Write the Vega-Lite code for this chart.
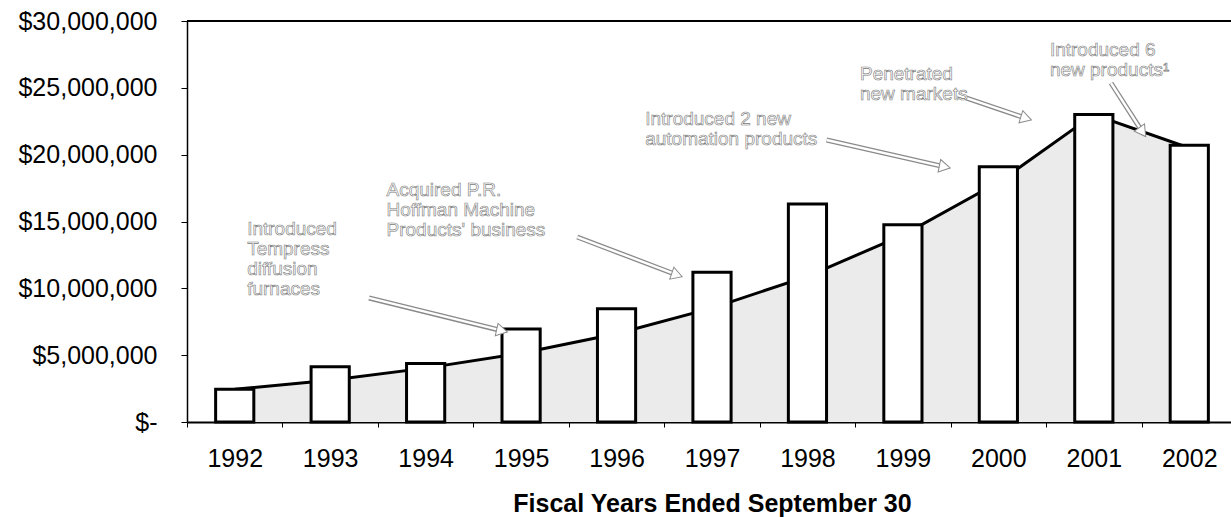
{
  "$schema": "https://vega.github.io/schema/vega-lite/v6.json",
  "autosize": {"type": "none"},
  "width": 1044,
  "height": 401,
  "padding": {"left": 187, "top": 21, "right": 0, "bottom": 95},
  "background": "white",
  "config": {
    "view": {"stroke": null},
    "font": "Liberation Sans",
    "axisX": {
      "labelAngle": 0, "labelFontSize": 25, "labelColor": "black", "labelFont": "Liberation Sans",
      "tickBand": "extent", "tickSize": 5, "tickColor": "black", "tickWidth": 1,
      "domainColor": "black", "domainWidth": 2, "labelPadding": 19,
      "titleFontSize": 25, "titleFontWeight": "bold", "titleColor": "black", "titleFont": "Liberation Sans", "titlePadding": 20
    },
    "axisY": {
      "labelFontSize": 25, "labelColor": "black", "labelFont": "Liberation Sans",
      "tickSize": 6, "tickColor": "black", "domainColor": "black", "domainWidth": 1.5,
      "labelPadding": 24, "grid": false, "title": null
    }
  },
  "datasets": {
    "sales": [
      {"year": "1992", "revenue": 2450000, "trend": 2450000},
      {"year": "1993", "revenue": 4130000, "trend": 3120000},
      {"year": "1994", "revenue": 4380000, "trend": 4030000},
      {"year": "1995", "revenue": 6950000, "trend": 5150000},
      {"year": "1996", "revenue": 8480000, "trend": 6600000},
      {"year": "1997", "revenue": 11200000, "trend": 8520000},
      {"year": "1998", "revenue": 16300000, "trend": 10900000},
      {"year": "1999", "revenue": 14750000, "trend": 13980000},
      {"year": "2000", "revenue": 19100000, "trend": 17930000},
      {"year": "2001", "revenue": 23000000, "trend": 23000000},
      {"year": "2002", "revenue": 20700000, "trend": 20500000}
    ],
    "notes": [
      {"ax": 1992.13, "ay": 14440000, "label": "Introduced\nTempress\ndiffusion\nfurnaces"},
      {"ax": 1993.59, "ay": 17360000, "label": "Acquired P.R.\nHoffman Machine\nProducts' business"},
      {"ax": 1996.3, "ay": 22670000, "label": "Introduced 2 new\nautomation products"},
      {"ax": 1998.55, "ay": 26070000, "label": "Penetrated\nnew markets"},
      {"ax": 2000.54, "ay": 27830000, "label": "Introduced 6\nnew products¹"}
    ],
    "arrows": [
      {"x1": 1993.08, "y1": 9280000, "x2": 1994.6, "y2": 6830000, "head": 12.7},
      {"x1": 1995.46, "y1": 13840000, "x2": 1996.6, "y2": 11000000, "head": 19.2},
      {"x1": 1998.31, "y1": 21100000, "x2": 1999.66, "y2": 19090000, "head": 11.7},
      {"x1": 1999.81, "y1": 24460000, "x2": 2000.59, "y2": 22720000, "head": 17.4},
      {"x1": 2001.56, "y1": 25360000, "x2": 2001.92, "y2": 21690000, "head": 54.9}
    ]
  },
  "layer": [
    {
      "data": {"name": "sales"},
      "layer": [
        {
          "mark": {"type": "area", "color": "#ebebeb"},
          "encoding": {
            "x": {"field": "year", "type": "ordinal", "bandPosition": 0.5,
                  "scale": {"range": [0, 1050], "paddingInner": 0, "paddingOuter": 0},
                  "axis": {"title": "Fiscal Years Ended September 30"}},
            "y": {"field": "trend", "type": "quantitative",
                  "scale": {"domain": [0, 30000000], "nice": false},
                  "axis": {"values": [0, 5000000, 10000000, 15000000, 20000000, 25000000, 30000000],
                           "labelExpr": "datum.value == 0 ? '$-' : format(datum.value, '$,.0f')"}}
          }
        },
        {
          "mark": {"type": "line", "color": "black", "strokeWidth": 3},
          "encoding": {
            "x": {"field": "year", "type": "ordinal", "bandPosition": 0.5},
            "y": {"field": "trend", "type": "quantitative"}
          }
        },
        {
          "mark": {"type": "bar", "fill": "white", "stroke": "black", "strokeWidth": 3, "width": {"band": 0.4}},
          "encoding": {
            "x": {"field": "year", "type": "ordinal"},
            "y": {"field": "revenue", "type": "quantitative"}
          }
        },
        {
          "mark": {"type": "rule", "color": "black", "strokeWidth": 1.5},
          "encoding": {"y": {"datum": 30000000}}
        }
      ]
    },
    {
      "data": {"name": "arrows"},
      "layer": [
        {
          "mark": {"type": "rule", "stroke": "#8a8a8a", "strokeWidth": 5},
          "encoding": {
            "x": {"field": "x1", "type": "quantitative", "scale": {"domain": [1991.5, 2002.5], "range": [0, 1050]}, "axis": null},
            "x2": {"field": "x2"},
            "y": {"field": "y1", "type": "quantitative"},
            "y2": {"field": "y2"}
          }
        },
        {
          "mark": {"type": "rule", "stroke": "white", "strokeWidth": 2.4},
          "encoding": {
            "x": {"field": "x1", "type": "quantitative"},
            "x2": {"field": "x2"},
            "y": {"field": "y1", "type": "quantitative"},
            "y2": {"field": "y2"}
          }
        },
        {
          "mark": {"type": "point", "shape": "triangle-right", "filled": true, "fill": "white", "stroke": "#8a8a8a", "strokeWidth": 1, "size": 160, "opacity": 1},
          "encoding": {
            "x": {"field": "x2", "type": "quantitative"},
            "y": {"field": "y2", "type": "quantitative"},
            "angle": {"field": "head", "type": "quantitative", "scale": null}
          }
        }
      ]
    },
    {
      "data": {"name": "notes"},
      "mark": {"type": "text", "align": "left", "baseline": "middle", "lineBreak": "\n", "fontSize": 19, "lineHeight": 20,
               "font": "Liberation Sans", "fill": "white", "stroke": "#7a7a7a", "strokeWidth": 0.6},
      "encoding": {
        "x": {"field": "ax", "type": "quantitative", "scale": {"domain": [1991.5, 2002.5], "range": [0, 1050]}, "axis": null},
        "y": {"field": "ay", "type": "quantitative"},
        "text": {"field": "label"}
      }
    }
  ],
  "resolve": {"scale": {"x": "independent"}}
}
